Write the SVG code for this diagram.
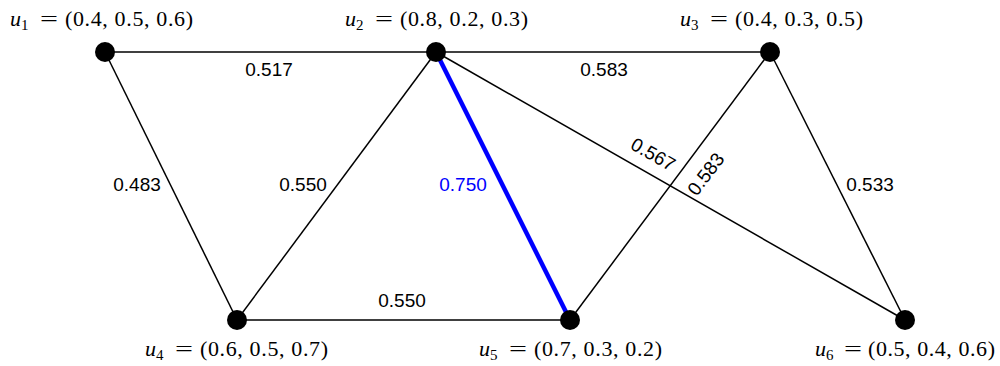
<svg xmlns="http://www.w3.org/2000/svg" width="1000" height="366" viewBox="0 0 1000 366">
<style>
.e{stroke:#000;stroke-width:1.5;fill:none}
.b{stroke:#0000ff;stroke-width:4.5;fill:none}
.n{fill:#000}
.nl{font-family:"Liberation Serif",serif;font-size:22px;fill:#000}
.v{font-style:italic}
.s{font-size:15px}
.el{font-family:"Liberation Sans",sans-serif;font-size:19px;fill:#000;text-anchor:middle}
</style>
<rect width="1000" height="366" fill="#fff"/>
<g id="connectors">
<line class="e" x1="105" y1="52" x2="436" y2="52"/>
<line class="e" x1="436" y1="52" x2="770" y2="52"/>
<line class="e" x1="105" y1="52" x2="237" y2="320"/>
<line class="e" x1="436" y1="52" x2="237" y2="320"/>
<line class="e" x1="237" y1="320" x2="570" y2="320"/>
<line class="e" x1="436" y1="52" x2="905" y2="320"/>
<line class="e" x1="770" y1="52" x2="570" y2="320"/>
<line class="e" x1="770" y1="52" x2="905" y2="320"/>
<line class="b" x1="436" y1="52" x2="570" y2="320"/>
<text class="el" x="269" y="76">0.517</text>
<text class="el" x="604" y="76">0.583</text>
<text class="el" x="137" y="191">0.483</text>
<text class="el" x="303" y="191">0.550</text>
<text class="el" x="463" y="191" style="fill:#0000ff">0.750</text>
<text class="el" x="402" y="307">0.550</text>
<text class="el" x="870" y="191">0.533</text>
<text class="el" transform="translate(650,160) rotate(29.7)">0.567</text>
<text class="el" transform="translate(711,178) rotate(-53)">0.583</text>
</g>
<g id="u1"><circle class="n" cx="105" cy="52" r="10"/><text class="nl" x="10" y="26"><tspan class="v">u</tspan><tspan class="s" dy="4">1</tspan></text><text class="nl" transform="translate(40,26) scale(1.45,1)">=</text><text class="nl" x="65" y="26" textLength="128">(0.4, 0.5, 0.6)</text></g>
<g id="u2"><circle class="n" cx="436" cy="52" r="10"/><text class="nl" x="345" y="26"><tspan class="v">u</tspan><tspan class="s" dy="4">2</tspan></text><text class="nl" transform="translate(375,26) scale(1.45,1)">=</text><text class="nl" x="400" y="26" textLength="128">(0.8, 0.2, 0.3)</text></g>
<g id="u3"><circle class="n" cx="770" cy="52" r="10"/><text class="nl" x="680" y="26"><tspan class="v">u</tspan><tspan class="s" dy="4">3</tspan></text><text class="nl" transform="translate(710,26) scale(1.45,1)">=</text><text class="nl" x="735" y="26" textLength="128">(0.4, 0.3, 0.5)</text></g>
<g id="u4"><circle class="n" cx="237" cy="320" r="10"/><text class="nl" x="145" y="356"><tspan class="v">u</tspan><tspan class="s" dy="4">4</tspan></text><text class="nl" transform="translate(175,356) scale(1.45,1)">=</text><text class="nl" x="200" y="356" textLength="128">(0.6, 0.5, 0.7)</text></g>
<g id="u5"><circle class="n" cx="570" cy="320" r="10"/><text class="nl" x="479" y="356"><tspan class="v">u</tspan><tspan class="s" dy="4">5</tspan></text><text class="nl" transform="translate(509,356) scale(1.45,1)">=</text><text class="nl" x="534" y="356" textLength="128">(0.7, 0.3, 0.2)</text></g>
<g id="u6"><circle class="n" cx="905" cy="320" r="10"/><text class="nl" x="815" y="356"><tspan class="v">u</tspan><tspan class="s" dy="4">6</tspan></text><text class="nl" transform="translate(844,356) scale(1.45,1)">=</text><text class="nl" x="868" y="356" textLength="127">(0.5, 0.4, 0.6)</text></g>
</svg>
